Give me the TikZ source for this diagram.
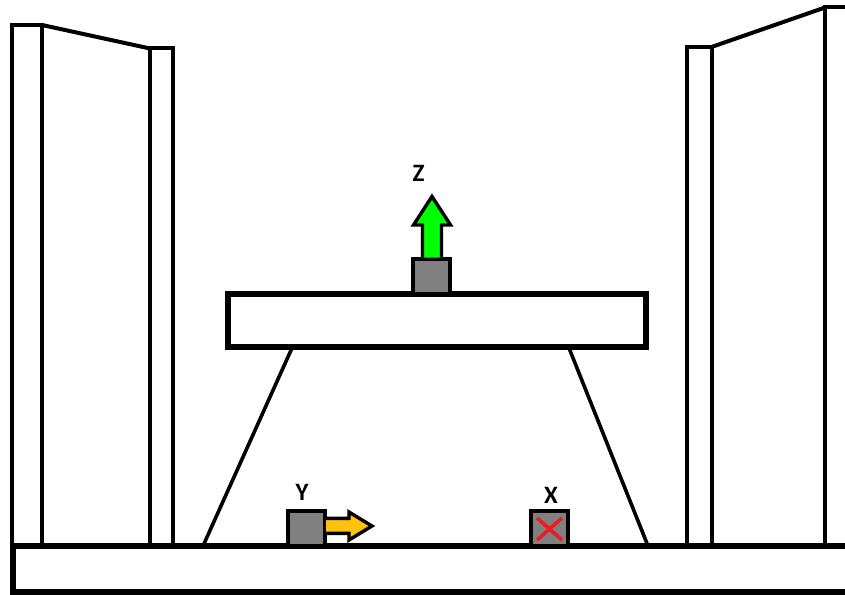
\documentclass[tikz,border=0pt]{standalone}
\usepackage{xcolor}
\usepackage{fontspec}
\setmainfont{Carlito}
\usetikzlibrary{positioning}
\definecolor{BlockGray}{RGB}{128,128,128}
\definecolor{ArrowGreen}{RGB}{0,255,0}
\definecolor{ArrowYellow}{RGB}{255,194,14}
\definecolor{CrossRed}{RGB}{237,28,36}

\begin{document}
\begin{tikzpicture}[
  x=1pt,
  y=-1pt,
  wall/.style={draw=black, line width=4pt, line join=miter},
  leg/.style={draw=black, line width=3.6pt},
  block/.style={
    rectangle,
    draw=black,
    fill=BlockGray,
    line width=4pt,
    inner sep=0pt,
    minimum width=37.5pt,
    minimum height=35pt
  },
  deck/.style={
    rectangle,
    draw=black,
    fill=white,
    line width=6pt,
    inner sep=0pt,
    minimum width=418pt,
    minimum height=53pt
  },
  motion/.style={draw=black, line width=3.4pt, line join=miter},
  axis/.style={inner sep=0pt, font=\fontsize{25}{27}\selectfont\bfseries}
]
\useasboundingbox (0,0) rectangle (845,594);

% left wall
\draw[wall] (12,546) -- (12,25) -- (42,25) -- (42,546);
\draw[wall] (150,546) -- (150,48.5) -- (173,48.5) -- (173,546);
\draw[wall] (42,25) -- (150,48.5);

% right wall
\draw[wall] (687,546) -- (687,47) -- (711.5,47) -- (711.5,546);
\draw[wall] (825,546) -- (825,7.5) -- (848,7.5);
\draw[wall] (711.5,47) -- (825,7.5);

% platform and legs
\node[deck] (platform) at (436.5,320) {};
\draw[leg] (292,348) -- (203,546);
\draw[leg] (569,348) -- (648,546);

% floor
\draw[draw=black, line width=6.5pt, line join=miter] (848,546) -- (13,546) -- (13,592) -- (848,592);

% blocks
\node[block] (blockZ) at (431.5,276) {};
\node[block] (blockY) at (306.5,528) {};
\node[block] (blockX) at (549.5,528) {};

% arrows
\draw[motion, fill=ArrowGreen] (422.5,257.5) -- (422.5,225) -- (413.5,225) -- (432,196.5) -- (450.5,225) -- (441.5,225) -- (441.5,257.5);
\draw[motion, fill=ArrowYellow] (326,518.4) -- (349,518.4) -- (349,512) -- (372,526) -- (349,540) -- (349,533.4) -- (326,533.4);
\draw[draw=CrossRed, line width=3.6pt] (537,518) -- (562,540);
\draw[draw=CrossRed, line width=3.6pt] (562,518) -- (537,540);

% labels
\node[axis] (labelZ) at (418.5,173) {Z};
\node[axis] (labelY) at (302,492) {Y};
\node[axis] (labelX) at (551,495) {X};
\end{tikzpicture}
\end{document}
